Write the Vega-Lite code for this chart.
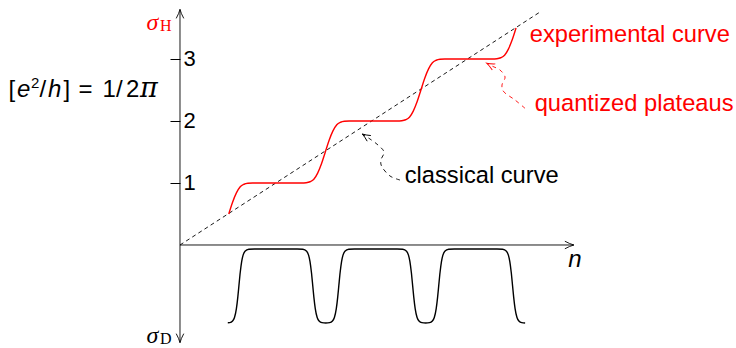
{
  "$schema": "https://vega.github.io/schema/vega-lite/v6.json",
  "width": 736,
  "height": 348,
  "padding": 0,
  "autosize": {"type": "none"},
  "background": "white",
  "config": {"view": {"stroke": null}},
  "datasets": {
    "classical": [{"n": 0, "s": 0}, {"n": 3.766, "s": 3.758}],
    "hall": [
      {"n": 0.51, "s": 0.5}, {"n": 0.55, "s": 0.69}, {"n": 0.59, "s": 0.84}, {"n": 0.63, "s": 0.94}, {"n": 0.67, "s": 0.98}, {"n": 0.71, "s": 0.995}, {"n": 0.76, "s": 1.0},
      {"n": 1.27, "s": 1.0}, {"n": 1.32, "s": 1.005}, {"n": 1.36, "s": 1.02}, {"n": 1.40, "s": 1.06}, {"n": 1.44, "s": 1.16}, {"n": 1.48, "s": 1.31}, {"n": 1.52, "s": 1.5}, {"n": 1.56, "s": 1.69}, {"n": 1.60, "s": 1.84}, {"n": 1.64, "s": 1.94}, {"n": 1.68, "s": 1.98}, {"n": 1.72, "s": 1.995}, {"n": 1.77, "s": 2.0},
      {"n": 2.27, "s": 2.0}, {"n": 2.32, "s": 2.005}, {"n": 2.36, "s": 2.02}, {"n": 2.40, "s": 2.06}, {"n": 2.44, "s": 2.16}, {"n": 2.48, "s": 2.31}, {"n": 2.52, "s": 2.5}, {"n": 2.56, "s": 2.69}, {"n": 2.60, "s": 2.84}, {"n": 2.64, "s": 2.94}, {"n": 2.68, "s": 2.98}, {"n": 2.72, "s": 2.995}, {"n": 2.77, "s": 3.0},
      {"n": 3.265, "s": 3.0}, {"n": 3.315, "s": 3.005}, {"n": 3.355, "s": 3.02}, {"n": 3.395, "s": 3.06}, {"n": 3.435, "s": 3.16}, {"n": 3.475, "s": 3.31}, {"n": 3.515, "s": 3.5}
    ],
    "diss": [
      {"n": 0.50, "s": -1.255}, {"n": 0.52, "s": -1.252}, {"n": 0.55, "s": -1.226}, {"n": 0.57, "s": -1.169}, {"n": 0.59, "s": -1.026}, {"n": 0.605, "s": -0.836}, {"n": 0.616, "s": -0.662}, {"n": 0.63, "s": -0.444}, {"n": 0.645, "s": -0.268}, {"n": 0.66, "s": -0.164}, {"n": 0.68, "s": -0.100}, {"n": 0.72, "s": -0.069}, {"n": 0.78, "s": -0.065},
      {"n": 1.225, "s": -0.065}, {"n": 1.285, "s": -0.069}, {"n": 1.325, "s": -0.100}, {"n": 1.345, "s": -0.164}, {"n": 1.36, "s": -0.268}, {"n": 1.375, "s": -0.444}, {"n": 1.389, "s": -0.662}, {"n": 1.40, "s": -0.836}, {"n": 1.415, "s": -1.026}, {"n": 1.435, "s": -1.169}, {"n": 1.455, "s": -1.226}, {"n": 1.485, "s": -1.252}, {"n": 1.525, "s": -1.257}, {"n": 1.565, "s": -1.252}, {"n": 1.595, "s": -1.226}, {"n": 1.615, "s": -1.169}, {"n": 1.635, "s": -1.026}, {"n": 1.65, "s": -0.836}, {"n": 1.661, "s": -0.662}, {"n": 1.675, "s": -0.444}, {"n": 1.69, "s": -0.268}, {"n": 1.705, "s": -0.164}, {"n": 1.725, "s": -0.100}, {"n": 1.765, "s": -0.069}, {"n": 1.825, "s": -0.065},
      {"n": 2.27, "s": -0.065}, {"n": 2.33, "s": -0.069}, {"n": 2.37, "s": -0.100}, {"n": 2.39, "s": -0.164}, {"n": 2.405, "s": -0.268}, {"n": 2.42, "s": -0.444}, {"n": 2.434, "s": -0.662}, {"n": 2.445, "s": -0.836}, {"n": 2.46, "s": -1.026}, {"n": 2.48, "s": -1.169}, {"n": 2.50, "s": -1.226}, {"n": 2.53, "s": -1.252}, {"n": 2.57, "s": -1.257}, {"n": 2.61, "s": -1.252}, {"n": 2.64, "s": -1.226}, {"n": 2.66, "s": -1.169}, {"n": 2.68, "s": -1.026}, {"n": 2.695, "s": -0.836}, {"n": 2.706, "s": -0.662}, {"n": 2.72, "s": -0.444}, {"n": 2.735, "s": -0.268}, {"n": 2.75, "s": -0.164}, {"n": 2.77, "s": -0.100}, {"n": 2.81, "s": -0.069}, {"n": 2.87, "s": -0.065},
      {"n": 3.315, "s": -0.065}, {"n": 3.375, "s": -0.069}, {"n": 3.415, "s": -0.100}, {"n": 3.435, "s": -0.164}, {"n": 3.45, "s": -0.268}, {"n": 3.465, "s": -0.444}, {"n": 3.479, "s": -0.662}, {"n": 3.49, "s": -0.836}, {"n": 3.505, "s": -1.026}, {"n": 3.525, "s": -1.169}, {"n": 3.545, "s": -1.226}, {"n": 3.575, "s": -1.252}, {"n": 3.61, "s": -1.257}
    ],
    "xaxis": [{"n": 0, "s": 0}, {"n": 4.12, "s": 0}],
    "yaxis": [{"n": 0, "s": -1.575}, {"n": 0, "s": 3.80}],
    "xtip": [{"n": 4.12, "s": 0}],
    "ytop": [{"n": 0, "s": 3.80}],
    "ybot": [{"n": 0, "s": -1.575}],
    "arrowK": [{"i": 0, "n": 2.301, "s": 1.048}, {"i": 1, "n": 2.197, "s": 1.113}, {"i": 2, "n": 2.113, "s": 1.258}, {"i": 3, "n": 2.102, "s": 1.371}, {"i": 4, "n": 2.134, "s": 1.5}, {"i": 5, "n": 2.071, "s": 1.613}, {"i": 6, "n": 1.987, "s": 1.71}, {"i": 7, "n": 1.907, "s": 1.79}],
    "tipK": [{"n": 1.907, "s": 1.79}],
    "arrowR": [{"i": 0, "n": 3.609, "s": 2.205}, {"i": 1, "n": 3.504, "s": 2.339}, {"i": 2, "n": 3.389, "s": 2.468}, {"i": 3, "n": 3.368, "s": 2.581}, {"i": 4, "n": 3.4, "s": 2.71}, {"i": 5, "n": 3.347, "s": 2.823}, {"i": 6, "n": 3.274, "s": 2.879}, {"i": 7, "n": 3.208, "s": 2.931}],
    "tipR": [{"n": 3.208, "s": 2.931}],
    "textK": [{"t": "classical curve", "n": 2.35, "s": 0.995}],
    "formula": [{"t": "[", "n": -1.794, "s": 2.387}, {"t": "/", "n": -1.47, "s": 2.387}, {"t": "]", "n": -1.219, "s": 2.387}, {"t": "=", "n": -1.062, "s": 2.387}, {"t": "1", "n": -0.811, "s": 2.387}, {"t": "/", "n": -0.669, "s": 2.387}, {"t": "2", "n": -0.565, "s": 2.387}],
    "textR": [{"t": "experimental curve", "n": 3.658, "s": 3.269}, {"t": "quantized plateaus", "n": 3.71, "s": 2.161}],
    "textI": [{"t": "n", "n": 4.06, "s": -0.35}, {"t": "e", "n": -1.705, "s": 2.387}, {"t": "h", "n": -1.381, "s": 2.387}],
    "textSup": [{"t": "2", "n": -1.559, "s": 2.532}],
    "textPi": [{"t": "π", "n": -0.418, "s": 2.387}],
    "sigmaH": [{"t": "σ", "n": -0.35, "s": 3.468}],
    "subH": [{"t": "H", "n": -0.209, "s": 3.456}],
    "sigmaD": [{"t": "σ", "n": -0.35, "s": -1.58}],
    "subD": [{"t": "D", "n": -0.209, "s": -1.592}]
  },
  "encoding": {
    "x": {"field": "n", "type": "quantitative", "scale": {"domain": [-1.8828, 5.8159], "nice": false, "zero": false}, "axis": null},
    "y": {"field": "s", "type": "quantitative", "scale": {"domain": [-1.6613, 3.9516], "nice": false, "zero": false},
      "axis": {"orient": "left", "offset": -180, "domain": false, "grid": false, "ticks": true, "tickSize": 10, "tickColor": "black", "tickWidth": 1, "values": [1, 2, 3], "labelAlign": "left", "labelBaseline": "middle", "labelPadding": -13, "labelFont": "Liberation Sans", "labelFontSize": 22, "labelColor": "black", "title": null}}
  },
  "layer": [
    {"data": {"name": "xaxis"}, "mark": {"type": "line", "color": "black", "strokeWidth": 0.9}},
    {"data": {"name": "yaxis"}, "mark": {"type": "line", "color": "black", "strokeWidth": 0.9}},
    {"data": {"name": "xtip"}, "mark": {"type": "point", "shape": "M -1 -0.42 Q -0.45 -0.12 0 0 Q -0.45 0.12 -1 0.42", "size": 324, "angle": 0, "filled": false, "stroke": "black", "strokeWidth": 0.9, "opacity": 1}},
    {"data": {"name": "ytop"}, "mark": {"type": "point", "shape": "M -1 -0.42 Q -0.45 -0.12 0 0 Q -0.45 0.12 -1 0.42", "size": 324, "angle": 270, "filled": false, "stroke": "black", "strokeWidth": 0.9, "opacity": 1}},
    {"data": {"name": "ybot"}, "mark": {"type": "point", "shape": "M -1 -0.42 Q -0.45 -0.12 0 0 Q -0.45 0.12 -1 0.42", "size": 324, "angle": 90, "filled": false, "stroke": "black", "strokeWidth": 0.9, "opacity": 1}},
    {"data": {"name": "classical"}, "mark": {"type": "line", "color": "black", "strokeWidth": 0.9, "strokeDash": [4, 3.3]}},
    {"data": {"name": "hall"}, "mark": {"type": "line", "color": "#ff0000", "strokeWidth": 1.4, "interpolate": "monotone"}},
    {"data": {"name": "diss"}, "mark": {"type": "line", "color": "black", "strokeWidth": 1.4, "interpolate": "monotone"}},
    {"data": {"name": "arrowK"}, "mark": {"type": "line", "color": "black", "strokeWidth": 0.9, "strokeDash": [4, 4], "interpolate": "cardinal"}, "encoding": {"order": {"field": "i", "type": "quantitative"}}},
    {"data": {"name": "tipK"}, "mark": {"type": "point", "shape": "M -1 -0.42 Q -0.45 -0.12 0 0 Q -0.45 0.12 -1 0.42", "size": 256, "angle": 213, "filled": false, "stroke": "black", "strokeWidth": 0.9, "opacity": 1}},
    {"data": {"name": "arrowR"}, "mark": {"type": "line", "color": "#ff0000", "strokeWidth": 0.9, "strokeDash": [4, 4], "interpolate": "cardinal"}, "encoding": {"order": {"field": "i", "type": "quantitative"}}},
    {"data": {"name": "tipR"}, "mark": {"type": "point", "shape": "M -1 -0.42 Q -0.45 -0.12 0 0 Q -0.45 0.12 -1 0.42", "size": 256, "angle": 207, "filled": false, "stroke": "#ff0000", "strokeWidth": 0.9, "opacity": 1}},
    {"data": {"name": "textK"}, "mark": {"type": "text", "align": "left", "baseline": "alphabetic", "font": "Liberation Sans", "fontSize": 23.7, "color": "black"}, "encoding": {"text": {"field": "t"}}},
    {"data": {"name": "formula"}, "mark": {"type": "text", "align": "left", "baseline": "alphabetic", "font": "Liberation Sans", "fontSize": 24, "color": "black"}, "encoding": {"text": {"field": "t"}}},
    {"data": {"name": "textR"}, "mark": {"type": "text", "align": "left", "baseline": "alphabetic", "font": "Liberation Sans", "fontSize": 23.7, "color": "#ff0000"}, "encoding": {"text": {"field": "t"}}},
    {"data": {"name": "textI"}, "mark": {"type": "text", "align": "left", "baseline": "alphabetic", "font": "Liberation Sans", "fontSize": 24, "fontStyle": "italic", "color": "black"}, "encoding": {"text": {"field": "t"}}},
    {"data": {"name": "textSup"}, "mark": {"type": "text", "align": "left", "baseline": "alphabetic", "font": "Liberation Sans", "fontSize": 15, "color": "black"}, "encoding": {"text": {"field": "t"}}},
    {"data": {"name": "textPi"}, "mark": {"type": "text", "align": "left", "baseline": "alphabetic", "font": "DejaVu Serif", "fontSize": 27, "fontStyle": "italic", "color": "black"}, "encoding": {"text": {"field": "t"}}},
    {"data": {"name": "sigmaH"}, "mark": {"type": "text", "align": "left", "baseline": "alphabetic", "font": "Liberation Serif", "fontSize": 24, "fontStyle": "italic", "color": "#ff0000"}, "encoding": {"text": {"field": "t"}}},
    {"data": {"name": "subH"}, "mark": {"type": "text", "align": "left", "baseline": "alphabetic", "font": "Liberation Serif", "fontSize": 16, "color": "#ff0000"}, "encoding": {"text": {"field": "t"}}},
    {"data": {"name": "sigmaD"}, "mark": {"type": "text", "align": "left", "baseline": "alphabetic", "font": "Liberation Serif", "fontSize": 24, "fontStyle": "italic", "color": "black"}, "encoding": {"text": {"field": "t"}}},
    {"data": {"name": "subD"}, "mark": {"type": "text", "align": "left", "baseline": "alphabetic", "font": "Liberation Serif", "fontSize": 16, "color": "black"}, "encoding": {"text": {"field": "t"}}}
  ]
}
